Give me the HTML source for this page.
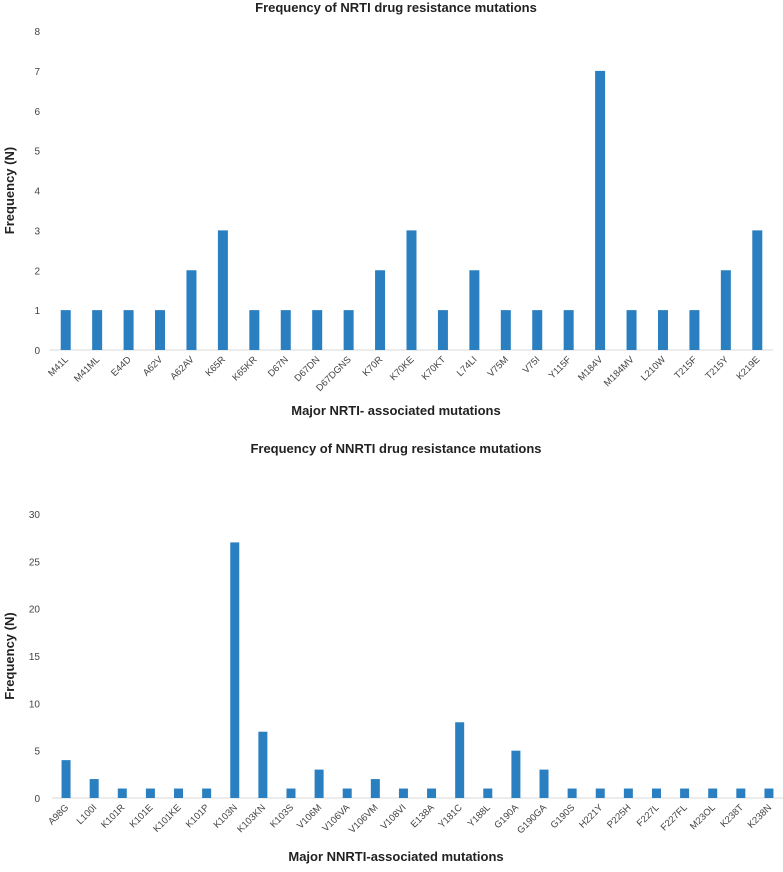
<!DOCTYPE html>
<html><head><meta charset="utf-8"><style>
body{margin:0;background:#fff;font-family:"Liberation Sans",sans-serif;}
svg text{font-family:"Liberation Sans",sans-serif;}
</style></head><body>
<svg id="c" width="783" height="867"></svg>
<script>
const nrtiCats=["M41L","M41ML","E44D","A62V","A62AV","K65R","K65KR","D67N","D67DN","D67DGNS","K70R","K70KE","K70KT","L74LI","V75M","V75I","Y115F","M184V","M184MV","L210W","T215F","T215Y","K219E"];
const nrtiVals=[1,1,1,1,2,3,1,1,1,1,2,3,1,2,1,1,1,7,1,1,1,2,3];
const nrtiTicks=[0,1,2,3,4,5,6,7,8];
const nnrtiCats=["A98G","L100I","K101R","K101E","K101KE","K101P","K103N","K103KN","K103S","V106M","V106VA","V106VM","V108VI","E138A","Y181C","Y188L","G190A","G190GA","G190S","H221Y","P225H","F227L","F227FL","M23OL","K238T","K238N"];
const nnrtiVals=[4,2,1,1,1,1,27,7,1,3,1,2,1,1,8,1,5,3,1,1,1,1,1,1,1,1];
const nnrtiTicks=[0,5,10,15,20,25,30];
const NS="http://www.w3.org/2000/svg";
const svg=document.getElementById('c');
function mk(t,a,txt){const e=document.createElementNS(NS,t);for(const k in a)e.setAttribute(k,a[k]);if(txt!==undefined)e.textContent=txt;svg.appendChild(e);return e;}
function chart(o){
  const y=v=>o.y0-(v-o.min)/(o.max-o.min)*(o.y0-o.yTop);
  const step=(o.x1-o.x0)/o.cats.length;
  const x=i=>o.x0+step*(i+0.5);
  let t=mk('text',{x:396,y:o.titleY,'text-anchor':'middle','font-size':13,'font-weight':'bold',fill:'#222'},o.title);
  
  
  o.ticks.forEach(v=>{
    const e=mk('text',{x:40,y:y(v)+4,'text-anchor':'end','font-size':10,fill:'#444'},v);
    
    
  });
  const ax=mk('line',{x1:o.x0,x2:o.x1,y1:o.y0,y2:o.y0,stroke:'#d9d9d9','stroke-width':1});
  
  
  o.cats.forEach((c,i)=>{
    const r=mk('rect',{x:x(i)-o.bw/2,y:y(o.vals[i]),width:o.bw,height:o.y0-y(o.vals[i]),fill:'#2a7fc1'});
    
    
    const l=mk('text',{x:x(i)+3,y:o.y0+10,'text-anchor':'end','font-size':9.5,fill:'#444',transform:`rotate(-45 ${x(i)+3} ${o.y0+10})`},c);
    
    
  });
  const xt=mk('text',{x:396,y:o.xTitleY,'text-anchor':'middle','font-size':13,'font-weight':'bold',fill:'#222'},o.xTitle);
  
  
  const yc=(o.y0+o.yTop)/2;
  const yt=mk('text',{x:14,y:yc,'text-anchor':'middle','font-size':13,'font-weight':'bold',fill:'#222',transform:`rotate(-90 14 ${yc})`},o.yTitle);
  
  
}
chart({key:'nrti',cats:nrtiCats,vals:nrtiVals,ticks:nrtiTicks,min:0,max:8,y0:350,yTop:31,x0:50,x1:773,bw:10,
  title:'Frequency of NRTI drug resistance mutations',titleY:12,xTitle:'Major NRTI- associated mutations',xTitleY:415,yTitle:'Frequency  (N)'});
chart({key:'nnrti',cats:nnrtiCats,vals:nnrtiVals,ticks:nnrtiTicks,min:0,max:30,y0:798,yTop:514,x0:52,x1:783,bw:9,
  title:'Frequency of NNRTI drug resistance mutations',titleY:453,xTitle:'Major NNRTI-associated mutations',xTitleY:861,yTitle:'Frequency (N)'});
</script>
</body></html>
